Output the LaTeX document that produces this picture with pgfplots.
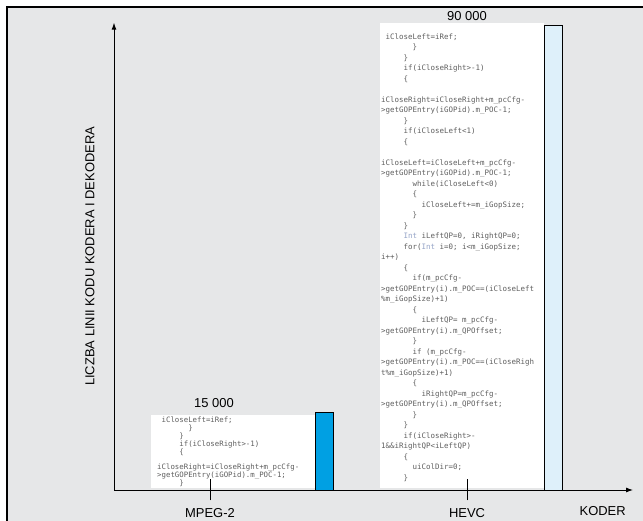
\documentclass[border=0pt]{standalone}
\usepackage{fontspec}
\setmainfont{Liberation Sans}
\setmonofont{DejaVu Sans Mono}
\usepackage{pgfplots}
\pgfplotsset{compat=1.18}
\usetikzlibrary{arrows.meta}
\definecolor{bggray}{RGB}{230,231,232}
\definecolor{mpegblue}{RGB}{0,160,227}
\definecolor{hevcblue}{RGB}{222,240,250}
\definecolor{codegray}{RGB}{95,95,95}
\definecolor{intcol}{RGB}{150,165,200}
\newcommand\IN[1]{\hspace*{#1\dimexpr0.602em\relax}}
\newcommand\KW{\textcolor{intcol}{Int}}
\begin{document}
\begin{tikzpicture}[x=1bp,y=1bp]
\useasboundingbox (0,0) rectangle (643,521);
\fill[bggray] (7,-2) rectangle (646,514);
\draw[line width=1.1bp] (7,-2) -- (7,514) -- (646,514);
\begin{axis}[
  at={(114bp,31bp)}, anchor=south west,
  scale only axis, width=519bp, height=467.3bp,
  xmin=0, xmax=519, ymin=0, ymax=90445,
  enlargelimits=false, clip=false, axis on top,
  axis lines=left,
  axis line style={line width=0.9bp, -{Latex[length=7bp,width=5bp]}},
  xtick={96,353}, xticklabels={MPEG-2,HEVC},
  ytick=\empty,
  major tick length=21bp, tick align=center,
  tick style={line width=0.9bp, black},
  xticklabel style={anchor=base, yshift=-17bp, font=\fontsize{13}{15}\selectfont},
  xlabel={KODER},
  xlabel style={at={(axis description cs:0.9415,0)}, anchor=base, yshift=-25.5bp, font=\fontsize{13}{15}\selectfont},
  ylabel={LICZBA LINII KODU KODERA I DEKODERA},
  ylabel style={at={(axis description cs:-0.0462,0.5)}, anchor=center, font=\fontsize{13}{15}\selectfont},
]
% white boxes behind the code text
\fill[white] (axis cs:37,387) rectangle (axis cs:201,14516);
\fill[white] (axis cs:266,387) rectangle (axis cs:430,90323);

% bars
\addplot[ybar, bar width=18, bar shift=0pt, fill=mpegblue, draw=black, line width=0.9bp] coordinates {(210,15000)};
\addplot[ybar, bar width=18, bar shift=0pt, fill=hevcblue, draw=black, line width=0.9bp] coordinates {(439,90000)};

% value labels
\node[anchor=base, font=\fontsize{13}{15}\selectfont] at (axis cs:100,15871) {15 000};
\node[anchor=base, font=\fontsize{13}{15}\selectfont] at (axis cs:353,90890) {90 000};

% code snippets (anchor = baseline of last line)
\node[anchor=base west, align=left, inner sep=0pt, text=codegray, font=\fontsize{7.4}{7.9}\selectfont\ttfamily] at (axis cs:43,871) {%
\IN{1}iCloseLeft=iRef;\\
\IN{7}\}\\
\IN{5}\}\\
\IN{5}if(iCloseRight>-1)\\
\IN{5}\{\\
\mbox{}\\
iCloseRight=iCloseRight+m\_pcCfg-\\
>getGOPEntry(iGOPid).m\_POC-1;\\
\IN{5}\}};

\node[anchor=base west, align=left, inner sep=0pt, text=codegray, font=\fontsize{7.5}{10.55}\selectfont\ttfamily] at (axis cs:267,1839) {%
\IN{1}iCloseLeft=iRef;\\
\IN{7}\}\\
\IN{5}\}\\
\IN{5}if(iCloseRight>-1)\\
\IN{5}\{\\
\mbox{}\\
iCloseRight=iCloseRight+m\_pcCfg-\\
>getGOPEntry(iGOPid).m\_POC-1;\\
\IN{5}\}\\
\IN{5}if(iCloseLeft<1)\\
\IN{5}\{\\
\mbox{}\\
iCloseLeft=iCloseLeft+m\_pcCfg-\\
>getGOPEntry(iGOPid).m\_POC-1;\\
\IN{7}while(iCloseLeft<0)\\
\IN{7}\{\\
\IN{9}iCloseLeft+=m\_iGopSize;\\
\IN{7}\}\\
\IN{5}\}\\
\IN{5}\KW{} iLeftQP=0, iRightQP=0;\\
\IN{5}for(\KW{} i=0; i<m\_iGopSize;\\
i++)\\
\IN{5}\{\\
\IN{7}if(m\_pcCfg-\\
>getGOPEntry(i).m\_POC==(iCloseLeft\\
\%m\_iGopSize)+1)\\
\IN{7}\{\\
\IN{9}iLeftQP= m\_pcCfg-\\
>getGOPEntry(i).m\_QPOffset;\\
\IN{7}\}\\
\IN{7}if (m\_pcCfg-\\
>getGOPEntry(i).m\_POC==(iCloseRigh\\
t\%m\_iGopSize)+1)\\
\IN{7}\{\\
\IN{9}iRightQP=m\_pcCfg-\\
>getGOPEntry(i).m\_QPOffset;\\
\IN{7}\}\\
\IN{5}\}\\
\IN{5}if(iCloseRight>-\\
1\&\&iRightQP<iLeftQP)\\
\IN{5}\{\\
\IN{7}uiColDir=0;\\
\IN{5}\}};
\end{axis}
\end{tikzpicture}
\end{document}
